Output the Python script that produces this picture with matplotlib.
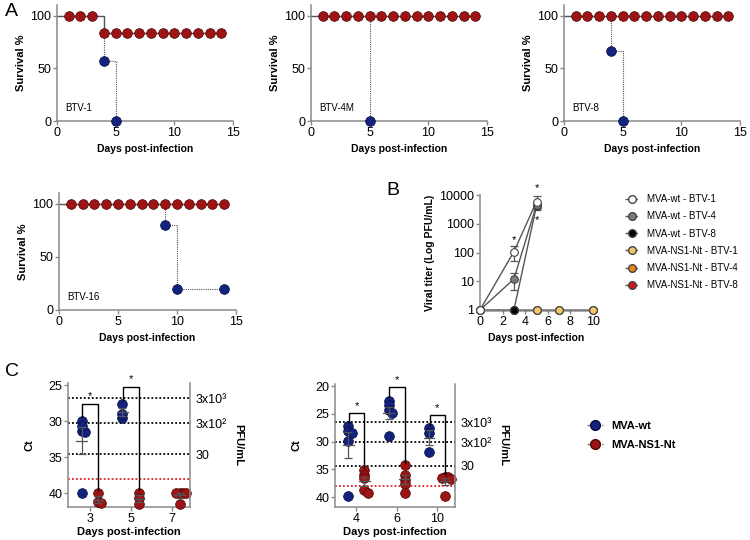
import matplotlib
matplotlib.use("Agg")
import matplotlib.pyplot as plt
from matplotlib.lines import Line2D
import numpy as np

plt.rcParams['font.family'] = ['Liberation Sans', 'DejaVu Sans']

# ---------------- data ----------------
# A: survival (%) per day, days 1..14
days = list(range(1, 15))
ns1_btv1 = [100, 100, 100] + [83.3] * 11
ns1_btv4m = [100] * 14
ns1_btv8 = [100] * 14
ns1_btv16 = [100] * 14
wt_btv1_days, wt_btv1 = [4, 5], [57.1, 0]
wt_btv4m_days, wt_btv4m = [5], [0]
wt_btv8_days, wt_btv8 = [4, 5], [66.7, 0]
wt_btv16_days, wt_btv16 = [9, 10, 14], [80, 20, 20]

# B: viral titer (PFU/mL)
b_wt_days = [0, 3, 5]
b_ns1_days = [0, 3, 5, 7, 10]
b_wt_btv1 = [1, 107, 5900]
b_wt_btv1_err = [0, 55, 3000]
b_wt_btv4 = [1, 12, 4500]
b_wt_btv4_err = [0, 7, 1000]
b_wt_btv8 = [1, 1, 4200]
b_wt_btv8_err = [0, 0, 600]
b_ns1_btv1 = [1, 1, 1, 1, 1]
b_ns1_btv4 = [1, 1, 1, 1, 1]
b_ns1_btv8 = [1, 1, 1, 1, 1]
b_labels = ['MVA-wt - BTV-1', 'MVA-wt - BTV-4', 'MVA-wt - BTV-8',
            'MVA-NS1-Nt - BTV-1', 'MVA-NS1-Nt - BTV-4', 'MVA-NS1-Nt - BTV-8']

# C: Ct values
c1_days = ['3', '5', '7']
c1_wt = [[30.0, 31.3, 31.5, 30.7, 40.0], [27.6, 29.6, 29.0], []]
c1_ns1 = [[40.0, 41.2, 41.4], [40.0, 40.7, 41.5], [40.0, 40.0, 40.0, 40.0, 41.5]]
c1_sig = [0, 1]
c2_days = ['4', '6', '10']
c2_wt = [[27.2, 28.0, 28.4, 29.9, 39.8], [22.6, 23.4, 24.3, 24.8, 29.0], [27.6, 28.4, 31.8]]
c2_ns1 = [[35.1, 36.0, 36.6, 38.7, 39.3], [34.2, 36.0, 36.9, 37.7, 39.2],
          [36.3, 36.4, 36.5, 36.8, 39.9]]
c2_sig = [0, 1, 2]
pfu_labels = ['3x10³', '3x10²', '30']
c1_pfu_ct = [26.8, 30.3, 34.6]
c2_pfu_ct = [26.5, 30.1, 34.4]
detect_limit = 38.0

RED = '#9e1414'
RED_E = '#4a0707'
BLUE = '#13227f'
BLUE_E = '#060c3e'
GRAY = '#8a8a8a'

fig = plt.figure(figsize=(7.5, 5.4), dpi=100)


def px_axes(l, t, r, b):
    return fig.add_axes([l / 750, 1 - b / 540, (r - l) / 750, (b - t) / 540])


def style(ax):
    for s in ['top', 'right']:
        ax.spines[s].set_visible(False)
    for s in ['left', 'bottom']:
        ax.spines[s].set_color(GRAY)
        ax.spines[s].set_linewidth(1.1)
    ax.tick_params(direction='out', length=3, width=1, color=GRAY, labelsize=9, pad=1)


def survival(ax, name, ns1, wt_d, wt_v):
    style(ax)
    ax.step([0] + wt_d, [100] + wt_v, where='post', color='#555555', lw=0.8,
            ls=(0, (1, 1)), zorder=1)
    ax.step([0] + days, [100] + ns1, where='post', color='#555555', lw=1, zorder=2)
    ax.plot(days, ns1, 'o', ms=7, mfc=RED, mec=RED_E, mew=0.5, clip_on=False, zorder=3)
    ax.plot(wt_d, wt_v, 'o', ms=7, mfc=BLUE, mec=BLUE_E, mew=0.5, clip_on=False, zorder=4)
    ax.set_xlim(0, 15)
    ax.set_ylim(0, 110)
    ax.set_xticks([0, 5, 10, 15])
    ax.set_yticks([0, 50, 100])
    ax.text(0.7, 12, name, fontsize=7, va='center')
    ax.set_xlabel('Days post-infection', fontsize=7.5, fontweight='bold', labelpad=4)
    ax.set_ylabel('Survival %', fontsize=8, fontweight='bold', labelpad=3)


survival(px_axes(57, 5, 233, 121), 'BTV-1', ns1_btv1, wt_btv1_days, wt_btv1)
survival(px_axes(311, 5, 487, 121), 'BTV-4M', ns1_btv4m, wt_btv4m_days, wt_btv4m)
survival(px_axes(564, 5, 740, 121), 'BTV-8', ns1_btv8, wt_btv8_days, wt_btv8)
survival(px_axes(59, 193, 236, 310), 'BTV-16', ns1_btv16, wt_btv16_days, wt_btv16)

# ---------------- B ----------------
axb = px_axes(480, 195, 593, 310)
style(axb)
axb.set_yscale('log')
b_series = [
    (b_ns1_days, b_ns1_btv8, None, '#d01818'),
    (b_ns1_days, b_ns1_btv4, None, '#e5841c'),
    (b_ns1_days, b_ns1_btv1, None, '#f3c768'),
    (b_wt_days, b_wt_btv8, b_wt_btv8_err, '#000000'),
    (b_wt_days, b_wt_btv4, b_wt_btv4_err, '#7a7a7a'),
    (b_wt_days, b_wt_btv1, b_wt_btv1_err, '#ffffff'),
]
for d, v, e, c in b_series:
    axb.plot(d, v, '-', color='#555555', lw=1, clip_on=False, zorder=2)
    if e is not None:
        axb.errorbar(d, v, yerr=e, fmt='none', ecolor='#555555', elinewidth=0.9,
                     capsize=3, capthick=0.9, clip_on=False, zorder=2)
    axb.plot(d, v, 'o', ms=5.5, mfc=c, mec='#444444', mew=0.8, clip_on=False, zorder=3)
for x, y in [(b_wt_days[1], (b_wt_btv1[1] + b_wt_btv1_err[1]) * 1.7),
             (b_wt_days[2], (b_wt_btv1[2] + b_wt_btv1_err[2]) * 1.9),
             (b_wt_days[2], (b_wt_btv8[2] - b_wt_btv8_err[2]) / 2.6)]:
    axb.text(x, y, '*', ha='center', va='center', fontsize=8, clip_on=False)
axb.set_xlim(0, 10)
axb.set_ylim(1, 10000)
axb.set_xticks([0, 2, 4, 6, 8, 10])
axb.set_yticks([1, 10, 100, 1000, 10000])
axb.set_yticklabels(['1', '10', '100', '1000', '10000'])
axb.tick_params(axis='y', which='minor', length=1.5, color=GRAY)
axb.set_xlabel('Days post-infection', fontsize=7.5, fontweight='bold', labelpad=4)
axb.set_ylabel('Viral titer (Log PFU/mL)', fontsize=7.5, fontweight='bold', labelpad=3)

b_handles = [Line2D([], [], color='#555555', lw=1, ls='--', marker='o', ms=5.5,
                    mfc=c, mec='#444444') for c in
             ['#ffffff', '#7a7a7a', '#000000', '#f3c768', '#e5841c', '#d01818']]
fig.legend(b_handles, b_labels, loc='upper left', bbox_to_anchor=(625 / 750, 1 - 194 / 540),
           frameon=False, fontsize=7, handlelength=1.4, handletextpad=0.9,
           labelspacing=0.75, borderpad=0, borderaxespad=0)


# ---------------- C ----------------
def swarm(vals, step=0.08, near=0.6):
    offs, placed = [], []
    for v in vals:
        k = sum(1 for p in placed if abs(p - v) < near)
        offs.append(((k + 1) // 2) * step * (1 if k % 2 else -1))
        placed.append(v)
    return offs


def ct_panel(ax, labels, wt, ns1, sig, pfu_ct, ylim, yticks):
    style(ax)
    ax.set_xlim(-0.53, 2.45)
    ax.set_ylim(*ylim)
    ax.set_xticks(range(len(labels)))
    ax.set_xticklabels(labels)
    ax.set_yticks(yticks)
    for y in pfu_ct:
        ax.axhline(y, color='k', lw=1.3, ls=(0, (1, 1.2)), zorder=1)
    ax.axhline(detect_limit, color='#e02020', lw=1.3, ls=(0, (1, 1.2)), zorder=1)
    for i in range(len(labels)):
        for vals, off, fc, ec in [(wt[i], -0.2, BLUE, BLUE_E), (ns1[i], 0.2, RED, RED_E)]:
            if not vals:
                continue
            xs = [i + off + o for o in swarm(vals)]
            ax.plot(xs, vals, 'o', ms=7, mfc=fc, mec=ec, mew=0.5, clip_on=False, zorder=3)
            m = np.mean(vals)
            sem = np.std(vals, ddof=1) / np.sqrt(len(vals))
            ax.errorbar([i + off], [m], yerr=[sem], fmt='none', ecolor='#555555',
                        elinewidth=0.9, capsize=3, capthick=0.9, zorder=4)
            ax.plot([i + off - 0.13, i + off + 0.13], [m, m], color='#555555', lw=0.9, zorder=4)
    for i in sig:
        yl = min(wt[i]) - 0.6
        yr = min(ns1[i]) - 0.4
        yt = min(wt[i]) - 2.4
        xl, xr = i - 0.18, i + 0.2
        ax.plot([xl, xl, xr, xr], [yl, yt, yt, yr], color='k', lw=1, clip_on=False, zorder=5)
        ax.text((xl + xr) / 2, yt - 0.4, '*', ha='center', va='bottom', fontsize=8,
                clip_on=False)
    ax2 = ax.twinx()
    ax2.set_ylim(*ylim)
    for s in ['top', 'left', 'bottom']:
        ax2.spines[s].set_visible(False)
    ax2.spines['right'].set_color(GRAY)
    ax2.spines['right'].set_linewidth(1.1)
    ax2.set_yticks(pfu_ct)
    ax2.set_yticklabels(pfu_labels)
    ax2.tick_params(axis='y', length=0, labelsize=9, pad=4)
    ax2.set_ylabel('PFU/mL', rotation=270, fontsize=8, fontweight='bold', labelpad=12)
    ax.set_xlabel('Days post-infection', fontsize=8, fontweight='bold', labelpad=2)
    ax.set_ylabel('Ct', fontsize=8, fontweight='bold', labelpad=10)


ct_panel(px_axes(68, 383, 190, 507), c1_days, c1_wt, c1_ns1, c1_sig, c1_pfu_ct,
         (41.9, 24.7), [25, 30, 35, 40])
ct_panel(px_axes(335, 384, 455, 507), c2_days, c2_wt, c2_ns1, c2_sig, c2_pfu_ct,
         (41.8, 19.6), [20, 25, 30, 35, 40])

c_handles = [Line2D([], [], color='#777777', lw=1, ls='--', marker='o', ms=7, mfc=BLUE, mec=BLUE_E),
             Line2D([], [], color='#777777', lw=1, ls='--', marker='o', ms=7, mfc=RED, mec=RED_E)]
leg = fig.legend(c_handles, ['MVA-wt', 'MVA-NS1-Nt'], loc='upper left',
                 bbox_to_anchor=(587 / 750, 1 - 421 / 540), frameon=False,
                 handlelength=1.4, handletextpad=0.8, labelspacing=0.8,
                 borderpad=0, borderaxespad=0, prop={'size': 8, 'weight': 'bold'})

fig.text(5 / 750, 1 - 12 / 540, 'A', fontsize=14, va='center')
fig.text(386 / 750, 1 - 191 / 540, 'B', fontsize=14, va='center')
fig.text(5 / 750, 1 - 372 / 540, 'C', fontsize=14, va='center')

fig.savefig('out.png', dpi=100)
